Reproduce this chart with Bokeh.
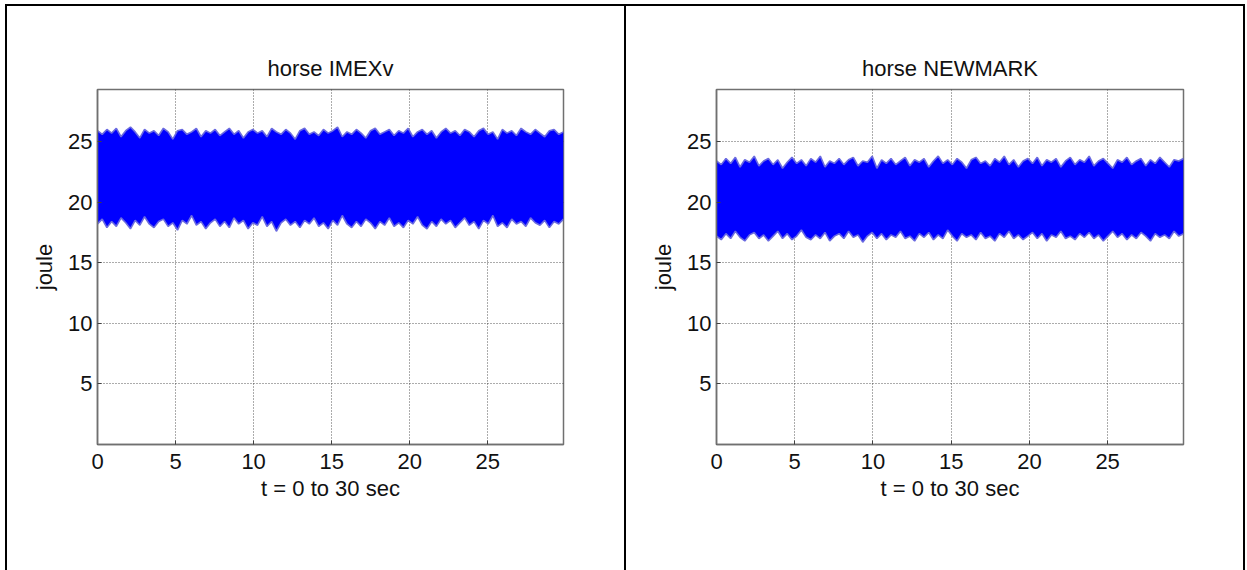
import numpy as np
from bokeh.plotting import figure
from bokeh.layouts import row
from bokeh.models import FixedTicker, Range1d
from bokeh.embed import file_html
from bokeh.resources import INLINE

titles = ["horse IMEXv", "horse NEWMARK"]
x_label = "t = 0 to 30 sec"
y_label = "joule"
x_ticks = [0, 5, 10, 15, 20, 25]
y_ticks = [5, 10, 15, 20, 25]
t_start, t_end = 0.0, 29.85
y_max = 29.3

# upper / lower envelope of the dense energy oscillation
imex_hi = [25.9, 25.6, 26.0, 25.7, 26.1, 25.4, 25.9, 26.2, 25.8, 25.3,
           26.0, 25.7, 25.9, 25.5, 26.1, 25.8, 25.2, 25.9, 26.0, 25.6,
           25.8, 26.1, 25.4, 25.9, 25.7, 26.0, 25.5, 25.8, 26.1, 25.6,
           25.9, 25.3, 25.8, 26.0, 25.7, 25.9, 25.4, 26.1, 25.8, 25.6,
           26.0, 25.7, 25.2, 25.9, 26.1, 25.6, 25.8, 25.5, 26.0, 25.7,
           25.9, 26.2, 25.4, 25.8, 25.6, 26.0, 25.7, 25.3, 25.9, 26.1,
           25.6, 25.8, 26.0, 25.5, 25.9, 25.7, 26.1, 25.4, 25.8, 26.0,
           25.6, 25.9, 25.3, 25.8, 26.1, 25.7, 25.9, 25.5, 26.0, 25.8,
           25.4, 25.9, 26.1, 25.6, 25.8, 25.2, 26.0, 25.7, 25.9, 25.5,
           26.1, 25.8, 25.6, 26.0, 25.7, 25.4, 25.9, 26.0, 25.6, 25.8]
imex_lo = [18.2, 18.6, 17.9, 18.4, 18.0, 18.7, 18.3, 17.8, 18.5, 18.1,
           18.8, 18.2, 17.9, 18.4, 18.6, 18.0, 18.3, 17.7, 18.5, 18.2,
           18.9, 18.1, 18.4, 17.8, 18.3, 18.6, 18.0, 18.4, 17.9, 18.7,
           18.2, 18.5, 17.8, 18.3, 18.1, 18.8, 18.0, 18.4, 17.6, 18.3,
           18.6, 18.1, 18.4, 17.9, 18.5, 18.2, 18.7, 18.0, 18.3, 17.8,
           18.5, 18.1, 18.9, 18.2, 17.9, 18.4, 18.0, 18.6, 18.3, 17.8,
           18.4, 18.1, 18.7, 18.0, 18.3, 17.9, 18.5, 18.2, 18.8, 18.1,
           17.8, 18.4, 18.0, 18.6, 18.2, 18.5, 17.9, 18.3, 18.7, 18.1,
           18.4, 17.8, 18.5, 18.2, 18.9, 18.0, 18.3, 17.9, 18.6, 18.2,
           18.4, 18.0, 18.7, 18.3, 18.1, 18.5, 17.9, 18.4, 18.2, 18.6]
newmark_hi = [23.4, 23.1, 23.6, 23.2, 23.7, 22.9, 23.5, 23.3, 23.8, 23.0,
              23.4, 23.6, 23.1, 23.5, 22.8, 23.3, 23.7, 23.2, 23.5, 23.0,
              23.6, 23.3, 23.8, 22.9, 23.4, 23.2, 23.6, 23.1, 23.5, 23.7,
              23.0, 23.4, 23.3, 23.8, 22.8, 23.5, 23.2, 23.6, 23.1, 23.4,
              23.7, 23.0, 23.5, 23.3, 23.6, 22.9, 23.4, 23.8, 23.2, 23.5,
              23.1, 23.6, 23.3, 22.8, 23.5, 23.7, 23.2, 23.4, 23.0, 23.6,
              23.3, 23.8, 23.1, 23.5, 22.9, 23.4, 23.6, 23.2, 23.7, 23.0,
              23.5, 23.3, 23.6, 22.9, 23.4, 23.7, 23.1, 23.5, 23.3, 23.8,
              23.0, 23.4, 23.6, 23.2, 22.8, 23.5, 23.3, 23.7, 23.1, 23.4,
              23.6, 23.0, 23.5, 23.2, 23.7, 23.3, 22.9, 23.5, 23.4, 23.6]
newmark_lo = [17.2, 16.9, 17.4, 17.0, 17.6, 17.1, 16.8, 17.3, 17.5, 17.0,
              17.3, 16.8, 17.2, 17.6, 17.0, 17.4, 16.9, 17.2, 17.7, 17.1,
              16.9, 17.3, 17.0, 17.5, 16.8, 17.2, 17.4, 17.0, 17.6, 17.1,
              17.3, 16.7, 17.2, 17.5, 17.0, 17.4, 16.9, 17.3, 17.1, 17.6,
              17.0, 17.2, 16.8, 17.4, 17.1, 17.5, 16.9, 17.3, 17.0, 17.7,
              17.2, 16.8, 17.4, 17.1, 17.3, 16.9, 17.5, 17.0, 17.2, 16.8,
              17.4, 17.1, 17.6, 17.0, 17.3, 16.9, 17.2, 17.5, 17.0, 17.4,
              16.8, 17.3, 17.1, 17.6, 17.0, 17.2, 16.9, 17.4, 17.1, 17.5,
              17.0, 17.3, 16.8, 17.2, 17.6, 17.1, 17.4, 16.9, 17.3, 17.0,
              17.5, 17.2, 16.8, 17.4, 17.1, 17.3, 17.0, 17.6, 17.2, 17.4]

FONT = "Liberation Sans"
FS = "22px"


def make_panel(title, hi, lo, width, height, left, right, top, bottom, styles, margin):
    p = figure(width=width, height=height, output_backend="svg", toolbar_location=None,
               x_range=Range1d(t_start, t_end), y_range=Range1d(0, y_max),
               min_border_left=left, min_border_right=right,
               min_border_top=top, min_border_bottom=bottom,
               styles=styles, margin=margin)
    t = np.linspace(t_start, t_end, len(hi))
    p.varea(x=t, y1=lo, y2=hi, fill_color="#0000ff")
    p.line(t, hi, line_color="#6a6ae0", line_width=1.6)
    p.line(t, lo, line_color="#6a6ae0", line_width=1.6)

    p.title.text = title
    p.title.align = "center"
    p.title.text_font = FONT
    p.title.text_font_size = FS
    p.title.text_font_style = "normal"
    p.title.text_color = "#111111"
    p.title.standoff = 18

    p.xaxis.ticker = FixedTicker(ticks=x_ticks)
    p.yaxis.ticker = FixedTicker(ticks=y_ticks)
    p.xaxis.axis_label = x_label
    p.yaxis.axis_label = y_label
    for ax in (p.xaxis, p.yaxis):
        ax.axis_label_text_font = FONT
        ax.axis_label_text_font_size = FS
        ax.axis_label_text_font_style = "normal"
        ax.axis_label_text_color = "#111111"
        ax.major_label_text_font = FONT
        ax.major_label_text_font_size = FS
        ax.major_label_text_color = "#111111"
        ax.major_tick_in = 4
        ax.major_tick_out = 0
        ax.minor_tick_in = 0
        ax.minor_tick_out = 0
        ax.axis_line_color = "#707070"
        ax.major_tick_line_color = "#404040"
        ax.axis_line_width = 1.5
    p.xaxis.major_label_standoff = 9
    p.xaxis.axis_label_standoff = 4
    p.yaxis.major_label_standoff = 5
    p.yaxis.axis_label_standoff = 8
    p.yaxis.major_label_orientation = "horizontal"

    p.xgrid.ticker = FixedTicker(ticks=x_ticks[1:])
    p.ygrid.ticker = FixedTicker(ticks=y_ticks)
    for g in (p.xgrid, p.ygrid):
        g.grid_line_color = "#303030"
        g.grid_line_dash = "1 2"
        g.grid_line_width = 1
        g.grid_line_alpha = 0.8
    p.outline_line_color = "#707070"
    p.outline_line_width = 1.5
    p.background_fill_color = "white"
    p.border_fill_color = "white"
    return p


left_fig = make_panel(titles[0], imex_hi, imex_lo, 621, 566, 90, 65, 83, 128,
                      {"border-left": "2px solid black", "border-top": "2px solid black",
                       "border-right": "2px solid black"}, (4, 0, 0, 5))
right_fig = make_panel(titles[1], newmark_hi, newmark_lo, 619, 566, 90, 62, 83, 128,
                       {"border-top": "2px solid black", "border-right": "2px solid black"},
                       (4, 0, 0, 0))

layout = row(left_fig, right_fig)
open("out.html", "w").write(file_html(layout, INLINE))
